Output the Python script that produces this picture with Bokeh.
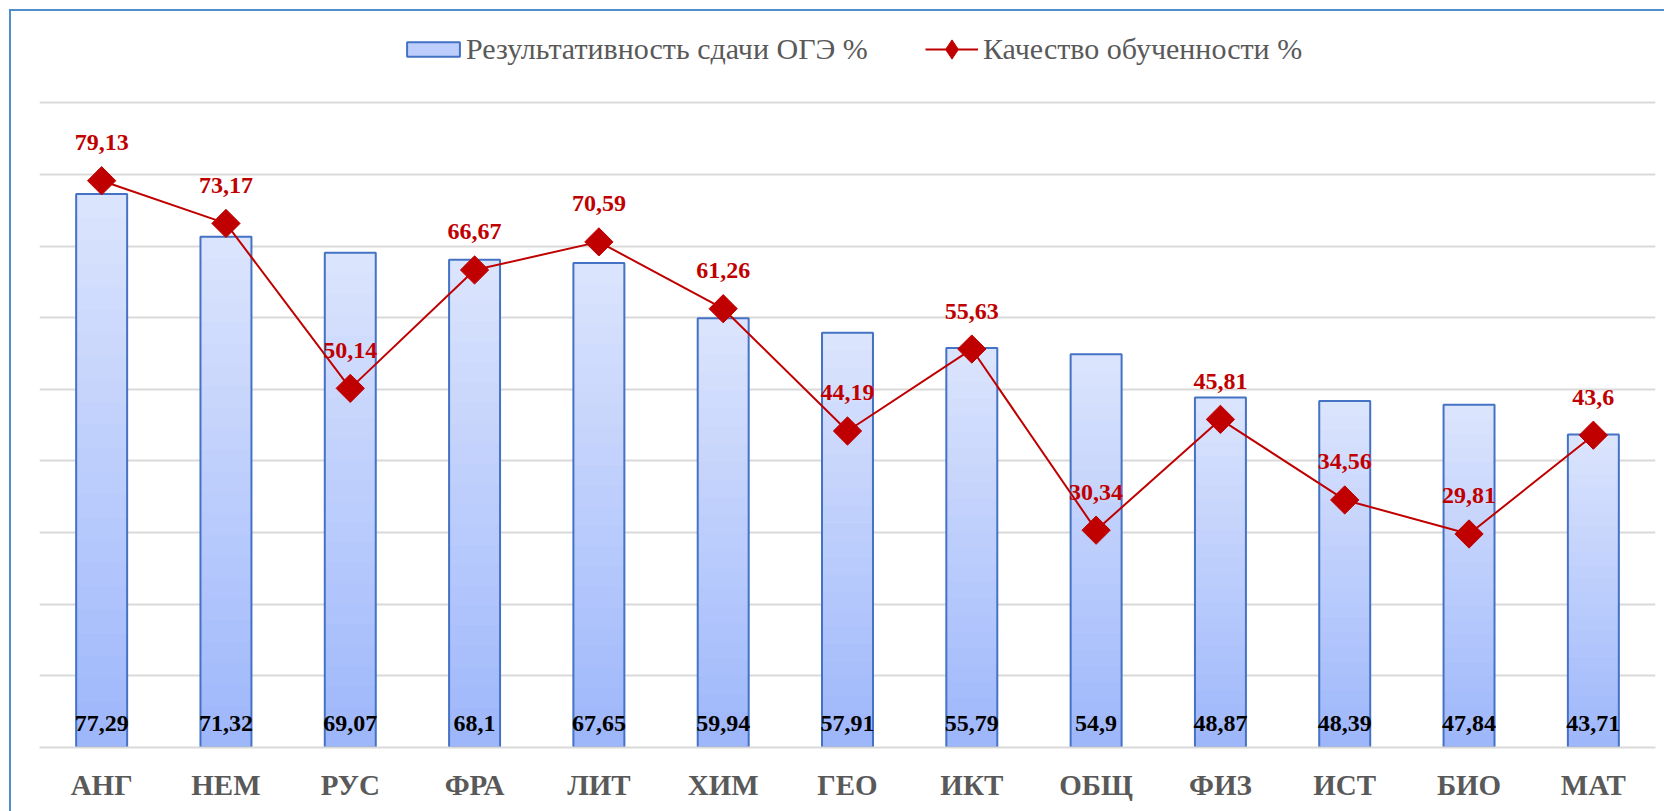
import numpy as np
from bokeh.plotting import figure
from bokeh.models import (ColumnDataSource, FactorRange, FixedTicker, Legend,
                          LegendItem, InlineStyleSheet)
from bokeh.core.properties import value
from bokeh.embed import file_html
from bokeh.resources import INLINE

# ---------------- data ----------------
subjects = ["АНГ", "НЕМ", "РУС", "ФРА", "ЛИТ", "ХИМ", "ГЕО", "ИКТ", "ОБЩ",
            "ФИЗ", "ИСТ", "БИО", "МАТ"]
results = [77.29, 71.32, 69.07, 68.1, 67.65, 59.94, 57.91, 55.79, 54.9,
           48.87, 48.39, 47.84, 43.71]
quality = [79.13, 73.17, 50.14, 66.67, 70.59, 61.26, 44.19, 55.63, 30.34,
           45.81, 34.56, 29.81, 43.6]
y_ticks = [0, 10, 20, 30, 40, 50, 60, 70, 80, 90]
series_names = ["Результативность сдачи ОГЭ %", "Качество обученности %"]


def fmt(v):
    return str(v).replace(".", ",")


# ---------------- figure ----------------
SERIF = "Liberation Serif"
p = figure(x_range=FactorRange(factors=subjects), y_range=(0, 101.5),
           width=1664, height=811, output_backend="svg",
           toolbar_location=None, y_axis_location=None,
           min_border_left=39, min_border_right=9, min_border_top=20,
           min_border_bottom=64)
p.outline_line_color = None
p.background_fill_color = "white"
p.border_fill_color = "white"

# outer chart border (top and left edges visible in the page)
p.stylesheets = [InlineStyleSheet(css="""
:host { position: relative; }
:host::after {
  content: ""; position: absolute; left: 9px; top: 9px; right: 0; bottom: 0;
  border-left: 2px solid #4f8fd0; border-top: 2px solid #4f8fd0;
  pointer-events: none; box-sizing: border-box;
}
""")]

# grid
p.xgrid.visible = False
p.ygrid.ticker = FixedTicker(ticks=y_ticks)
p.ygrid.grid_line_color = "#d9d9d9"
p.ygrid.grid_line_width = 2

# x axis
ax = p.xaxis[0]
ax.axis_line_color = "#d9d9d9"
ax.axis_line_width = 2
ax.major_tick_line_color = None
ax.minor_tick_line_color = None
ax.major_label_text_font = SERIF
ax.major_label_text_font_style = "bold"
ax.major_label_text_font_size = "29px"
ax.major_label_text_color = "#595959"
ax.major_label_standoff = 15

# ---------------- bars with vertical gradient ----------------
N = 24
top_rgb = np.array([0xdc, 0xe5, 0xfd])
bot_rgb = np.array([0x9d, 0xb6, 0xfb])
gx, gb, gt, gc = [], [], [], []
for s, v in zip(subjects, results):
    for k in range(N):
        f = (k + 0.5) / N
        c = bot_rgb + (top_rgb - bot_rgb) * f
        gx.append(s)
        gb.append(v * k / N)
        gt.append(v * (k + 1) / N)
        gc.append("#%02x%02x%02x" % tuple(int(round(t)) for t in c))
grad_src = ColumnDataSource(dict(x=gx, bottom=gb, top=gt, color=gc))
grad = p.vbar(x="x", bottom="bottom", top="top", width=0.41, source=grad_src,
              fill_color="color", line_color="color", line_width=1)

bar_src = ColumnDataSource(dict(x=subjects, top=results,
                                lab=[fmt(v) for v in results]))
outline = p.vbar(x="x", top="top", width=0.41, source=bar_src,
                 fill_color=None, line_color="#4472c4", line_width=2)

p.text(x="x", y=0, text="lab", source=bar_src, y_offset=-24,
       text_align="center", text_baseline="middle",
       text_font=value(SERIF), text_font_style="bold",
       text_font_size="24px", text_color="black")

# ---------------- line ----------------
line_src = ColumnDataSource(dict(x=subjects, y=quality,
                                 lab=[fmt(v) for v in quality]))
ln = p.line(x="x", y="y", source=line_src, line_color="#c00000", line_width=2)
mk = p.scatter(x="x", y="y", source=line_src, marker="square", size=20,
               angle=np.pi / 4, fill_color="#c00000", line_color="#c00000")
p.text(x="x", y="y", text="lab", source=line_src, y_offset=-38,
       text_align="center", text_baseline="middle",
       text_font=value(SERIF), text_font_style="bold",
       text_font_size="24px", text_color="#c00000")

# hidden diamond renderer used only for the legend swatch
leg_mk = p.scatter(x="x", y="y", source=line_src, marker="diamond",
                   fill_color="#c00000", line_color="#c00000", visible=False)

# ---------------- legends ----------------
def style_legend(lg, gw, gh, standoff):
    lg.label_text_font = SERIF
    lg.label_text_font_size = "30px"
    lg.label_text_color = "#595959"
    lg.glyph_width = gw
    lg.glyph_height = gh
    lg.label_height = 34
    lg.label_standoff = standoff
    lg.padding = 0
    lg.margin = 0
    lg.border_line_color = None
    lg.background_fill_alpha = 0

leg_y = 727 - 46  # legend bottom above the frame bottom (px)
legend1 = Legend(items=[LegendItem(label=series_names[0],
                                   renderers=[grad, outline], index=12)],
                 location=(361, leg_y))
style_legend(legend1, 66, 18, 0)
legend2 = Legend(items=[LegendItem(label=series_names[1],
                                   renderers=[ln, leg_mk], index=0)],
                 location=(886, leg_y - 7))
style_legend(legend2, 53, 48, 5)
p.add_layout(legend1)
p.add_layout(legend2)

open("out.html", "w").write(file_html(p, INLINE))
